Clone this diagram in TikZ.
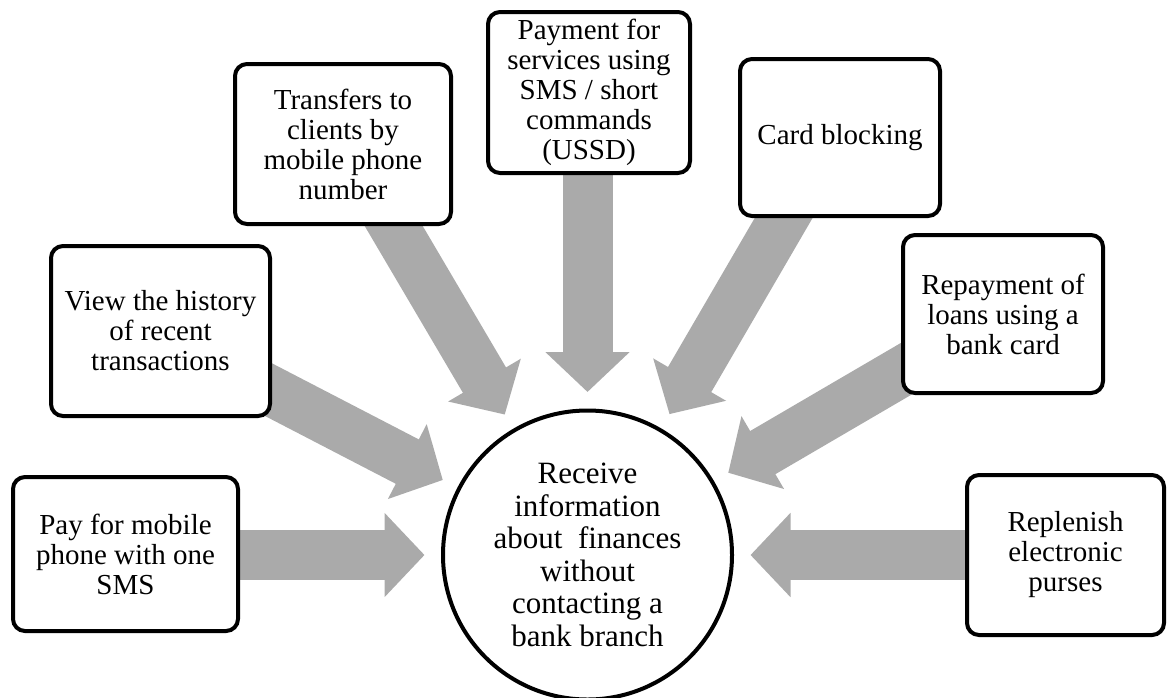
\documentclass[tikz,border=0pt]{standalone}
\usepackage{fontspec}
\setmainfont{Liberation Serif}
\usetikzlibrary{arrows.meta,backgrounds}

\definecolor{arrowgray}{RGB}{170,170,170}

\tikzset{
  servicebox/.style={draw=black, line width=4pt, rounded corners=12pt,
    fill=white, align=center, inner sep=0pt,
    font=\fontsize{29pt}{30pt}\selectfont},
  hubcircle/.style={draw=black, line width=4pt, circle, fill=white,
    align=center, inner sep=0pt, minimum size=289pt,
    font=\fontsize{31pt}{32.5pt}\selectfont},
  blockarrow/.style={draw=arrowgray, line width=50pt,
    -{Triangle[length=40pt,width=82pt]}, shorten >=16.5pt}
}

\begin{document}
\begin{tikzpicture}[x=1pt,y=-1pt]
\useasboundingbox (0,0) rectangle (1169,697);

% central goal
\node[hubcircle] (circ) at (587.5,555)
  {Receive\\information\\about\ \ finances\\without\\contacting a\\bank branch};

% services offered
\node[servicebox, minimum width=225pt, minimum height=154pt] (pay) at (125.5,554)
  {Pay for mobile\\phone with one\\SMS};
\node[servicebox, minimum width=219pt, minimum height=170pt] (hist) at (160.5,331)
  {View the history\\of recent\\transactions};
\node[servicebox, minimum width=216pt, minimum height=160pt] (trans) at (343,144)
  {Transfers to\\clients by\\mobile phone\\number};
\node[servicebox, minimum width=202pt, minimum height=161pt] (ussd) at (589,92.5)
  {Payment for\\services using\\SMS / short\\commands\\(USSD)};
\node[servicebox, minimum width=200pt, minimum height=157pt] (block) at (840,137.5)
  {Card blocking};
\node[servicebox, minimum width=200pt, minimum height=158pt] (loan) at (1003,314)
  {Repayment of\\loans using a\\bank card};
\node[servicebox, minimum width=197pt, minimum height=160pt] (purse) at (1065.5,555)
  {Replenish\\electronic\\purses};

% arrow tails, hidden under the boxes
\path (circ.center) ++(180:420) coordinate (apay);
\path (circ.center) ++(-152.6:420) coordinate (ahist);
\path (circ.center) ++(-120.5:420) coordinate (atrans);
\path (circ.center) ++(-90:420) coordinate (aussd);
\path (circ.center) ++(-59.8:420) coordinate (ablock);
\path (circ.center) ++(-30.3:420) coordinate (aloan);
\path (circ.center) ++(0:420) coordinate (apurse);

\begin{scope}[on background layer]
  \foreach \a in {apay,ahist,atrans,aussd,ablock,aloan,apurse}
    \draw[blockarrow] (\a) -- (circ);
\end{scope}
\end{tikzpicture}
\end{document}
